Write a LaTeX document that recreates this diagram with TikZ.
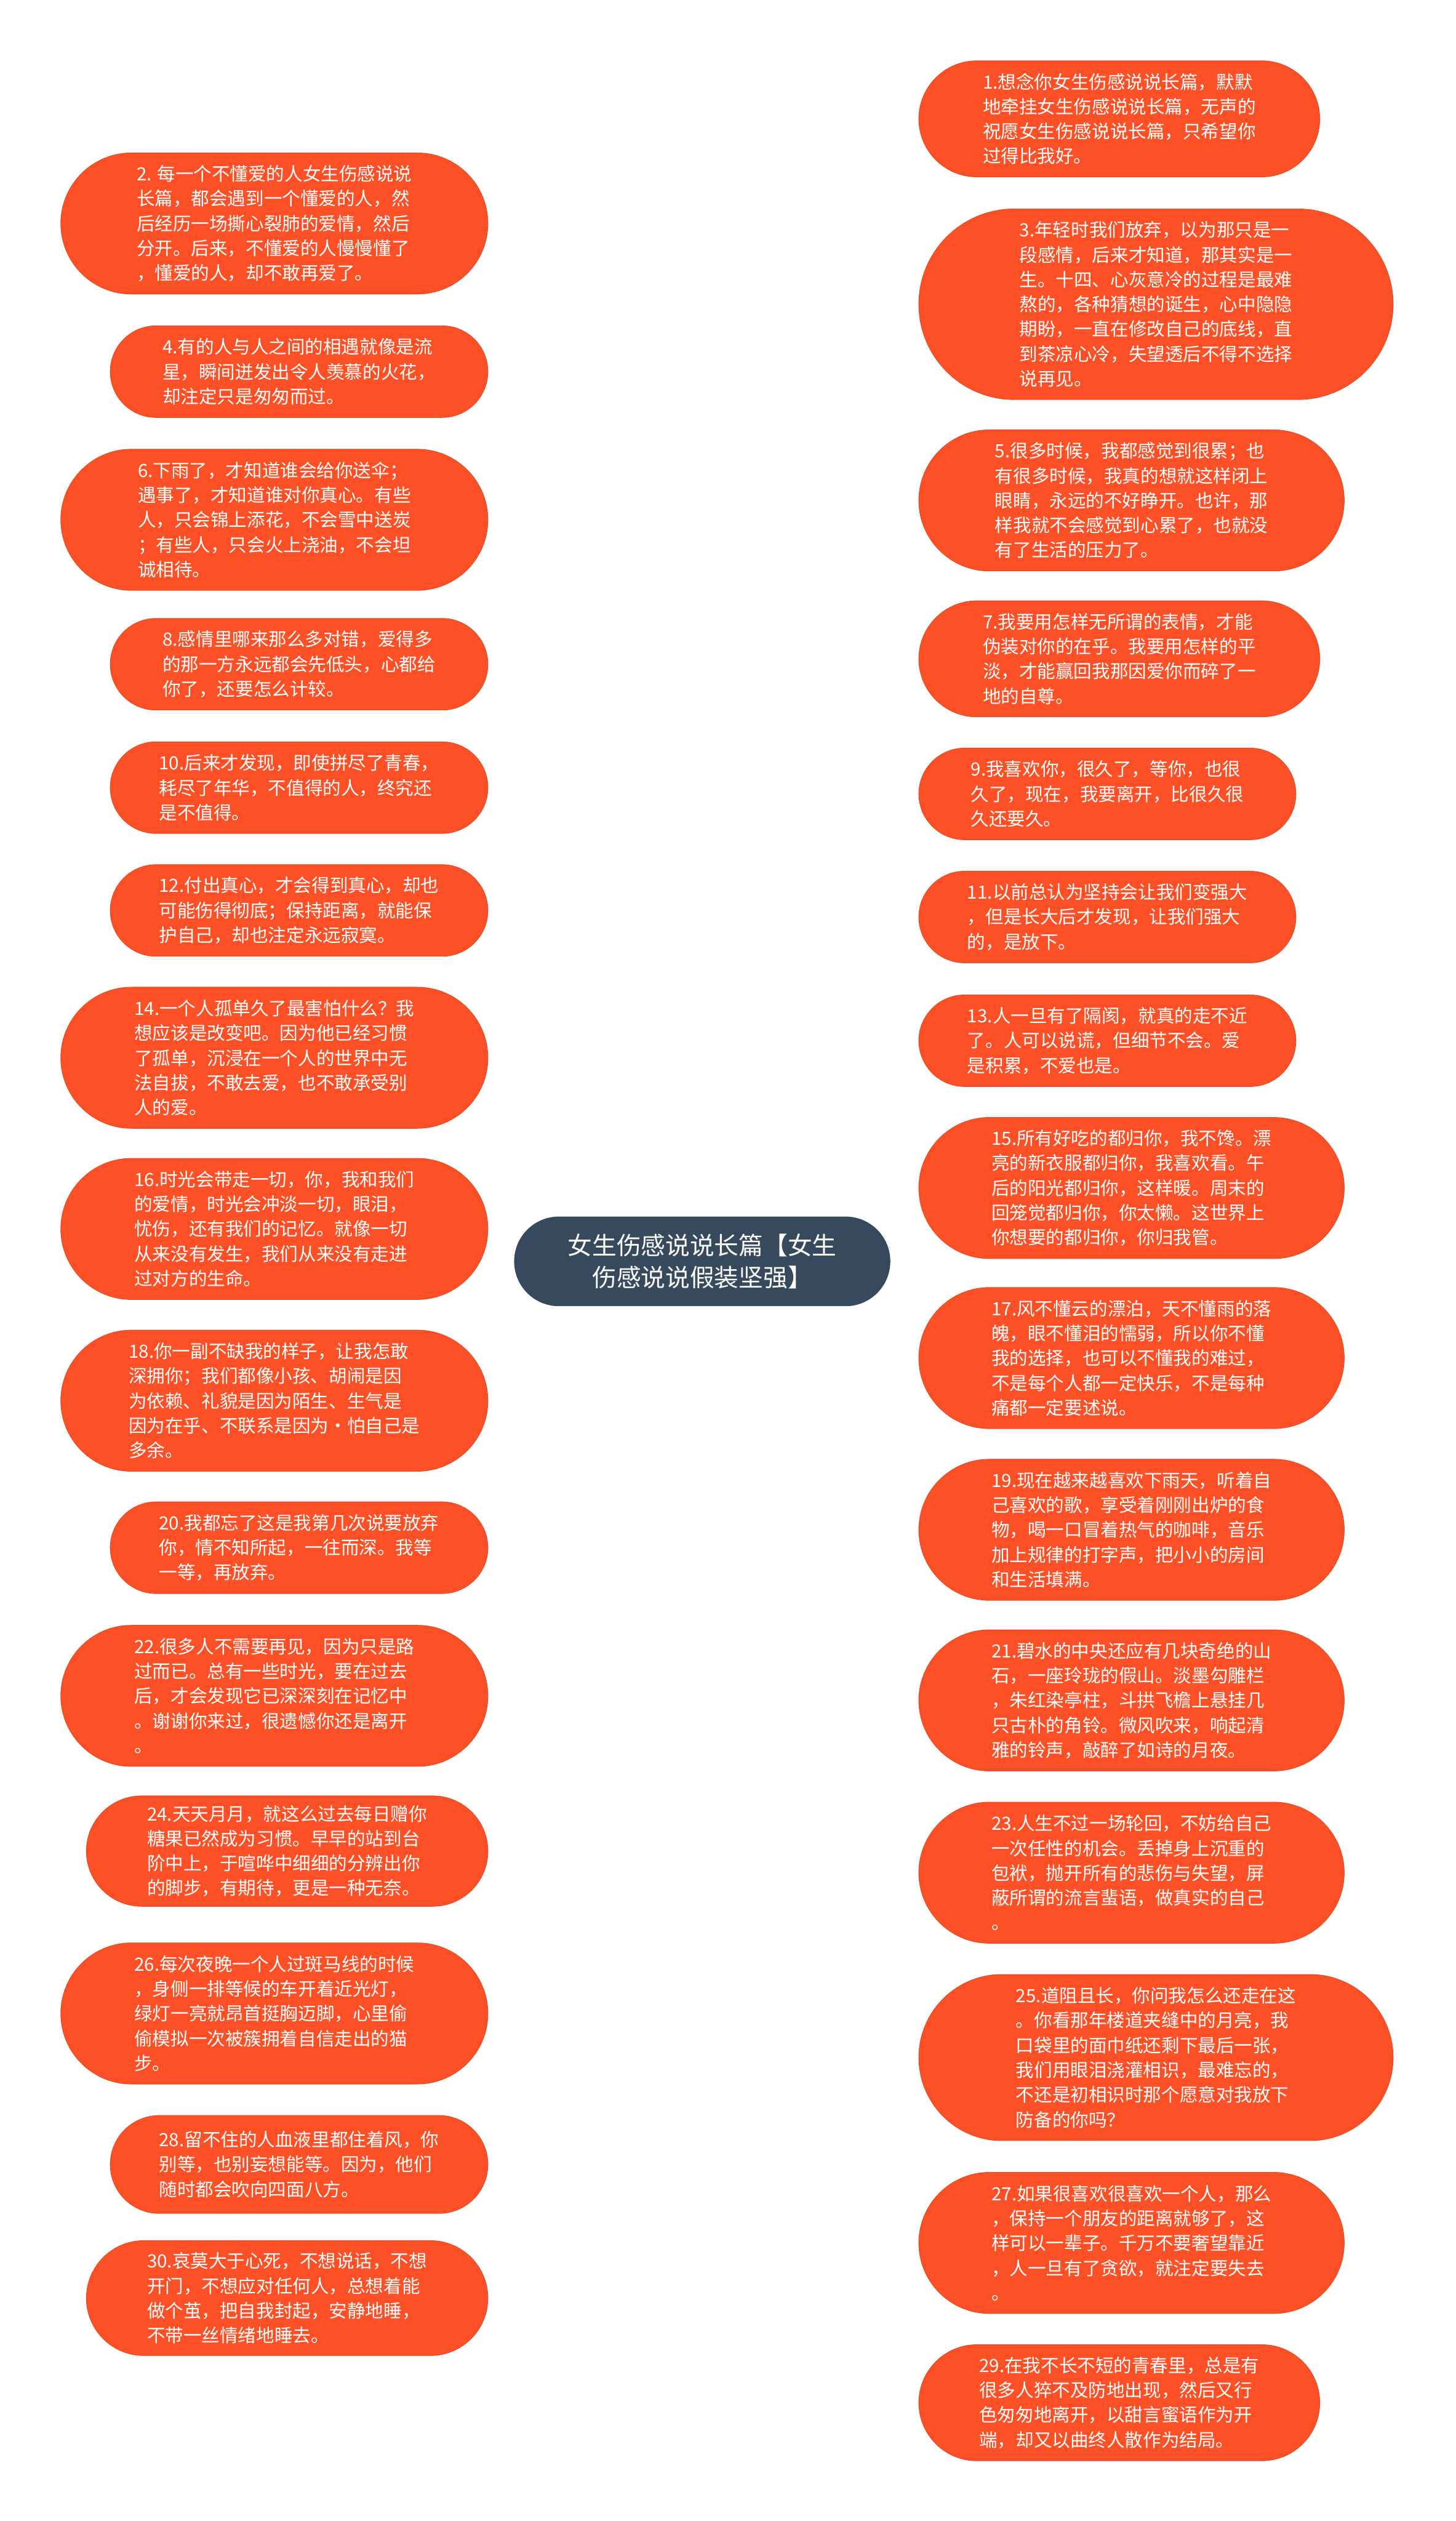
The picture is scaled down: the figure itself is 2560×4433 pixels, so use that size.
\documentclass[tikz,border=0pt]{standalone}
\usepackage{fontspec}
\setmainfont{Noto Sans CJK SC}
\usetikzlibrary{backgrounds}
\definecolor{leafc}{RGB}{253,80,38}
\definecolor{rootc}{RGB}{54,73,93}
\definecolor{linec}{RGB}{54,73,93}
\tikzset{
  leaf/.style 2 args={draw=leafc!92!black, line width=0.3pt, fill=leafc, text=white,
    align=left, inner sep=0pt, font=\fontsize{8pt}{10.9pt}\selectfont,
    minimum width=#1, minimum height=#2, rounded corners=0.5*#2},
  LW/.style={leaf={187.75pt}{#1}},
  LM/.style={leaf={166pt}{#1}},
  LN/.style={leaf={176.5pt}{#1}},
  RA/.style={leaf={176.25pt}{#1}},
  RB/.style={leaf={208.5pt}{#1}},
  RC/.style={leaf={187pt}{#1}},
  RD/.style={leaf={165.75pt}{#1}},
  rootbox/.style={fill=rootc, draw=rootc, text=white, align=center, inner sep=0pt,
    font=\fontsize{10.75pt}{14.25pt}\selectfont,
    minimum width=165pt, minimum height=39pt, rounded corners=19.5pt},
  conn/.style={draw=linec, line width=0.75pt}
}
\begin{document}
\begin{tikzpicture}[x=0.25pt,y=-0.25pt]
\useasboundingbox (0,0) rectangle (2560,4433);
\fill[white] (0,0) rectangle (2560,4433);

\node[rootbox] (c) at (1235,2218) {女生伤感说说长篇【女生\\伤感说说假装坚强】};

% left column
\node[LW={62pt}] (n2) at (482.5,393) {2. 每一个不懂爱的人女生伤感说说\\长篇，都会遇到一个懂爱的人，然\\后经历一场撕心裂肺的爱情，然后\\分开。后来，不懂爱的人慢慢懂了\\，懂爱的人，却不敢再爱了。};
\node[LM={40.25pt}] (n4) at (526,653.5) {4.有的人与人之间的相遇就像是流\\星，瞬间迸发出令人羡慕的火花，\\却注定只是匆匆而过。};
\node[LW={62pt}] (n6) at (482.5,914) {6.下雨了，才知道谁会给你送伞；\\遇事了，才知道谁对你真心。有些\\人，只会锦上添花，不会雪中送炭\\；有些人，只会火上浇油，不会坦\\诚相待。};
\node[LM={40.25pt}] (n8) at (526,1168) {8.感情里哪来那么多对错，爱得多\\的那一方永远都会先低头，心都给\\你了，还要怎么计较。};
\node[LM={40.25pt}] (n10) at (526,1385) {10.后来才发现，即使拼尽了青春，\\耗尽了年华，不值得的人，终究还\\是不值得。};
\node[LM={40.25pt}] (n12) at (526,1601) {12.付出真心，才会得到真心，却也\\可能伤得彻底；保持距离，就能保\\护自己，却也注定永远寂寞。};
\node[LW={62pt}] (n14) at (482.5,1860) {14.一个人孤单久了最害怕什么？我\\想应该是改变吧。因为他已经习惯\\了孤单，沉浸在一个人的世界中无\\法自拔，不敢去爱，也不敢承受别\\人的爱。};
\node[LW={62pt}] (n16) at (482.5,2161) {16.时光会带走一切，你，我和我们\\的爱情，时光会冲淡一切，眼泪，\\忧伤，还有我们的记忆。就像一切\\从来没有发生，我们从来没有走进\\过对方的生命。};
\node[LW={62pt}] (n18) at (482.5,2463) {18.你一副不缺我的样子，让我怎敢\\深拥你；我们都像小孩、胡闹是因\\为依赖、礼貌是因为陌生、生气是\\因为在乎、不联系是因为·怕自己是\\多余。};
\node[LM={40.25pt}] (n20) at (526,2721.5) {20.我都忘了这是我第几次说要放弃\\你，情不知所起，一往而深。我等\\一等，再放弃。};
\node[LW={62pt}] (n22) at (482.5,2982) {22.很多人不需要再见，因为只是路\\过而已。总有一些时光，要在过去\\后，才会发现它已深深刻在记忆中\\。谢谢你来过，很遗憾你还是离开\\。};
\node[LN={48.5pt}] (n24) at (505,3255) {24.天天月月，就这么过去每日赠你\\糖果已然成为习惯。早早的站到台\\阶中上，于喧哗中细细的分辨出你\\的脚步，有期待，更是一种无奈。};
\node[LW={62pt}] (n26) at (482.5,3540.5) {26.每次夜晚一个人过斑马线的时候\\，身侧一排等候的车开着近光灯，\\绿灯一亮就昂首挺胸迈脚，心里偷\\偷模拟一次被簇拥着自信走出的猫\\步。};
\node[LM={43pt}] (n28) at (526,3806) {28.留不住的人血液里都住着风，你\\别等，也别妄想能等。因为，他们\\随时都会吹向四面八方。};
\node[LN={50.5pt}] (n30) at (505,4041) {30.哀莫大于心死，不想说话，不想\\开门，不想应对任何人，总想着能\\做个茧，把自我封起，安静地睡，\\不带一丝情绪地睡去。};

% right column
\node[RA={51pt}] (n1) at (1968.5,209) {1.想念你女生伤感说说长篇，默默\\地牵挂女生伤感说说长篇，无声的\\祝愿女生伤感说说长篇，只希望你\\过得比我好。};
\node[RB={83.75pt}] (n3) at (2033,535) {3.年轻时我们放弃，以为那只是一\\段感情，后来才知道，那其实是一\\生。十四、心灰意冷的过程是最难\\熬的，各种猜想的诞生，心中隐隐\\期盼，一直在修改自己的底线，直\\到茶凉心冷，失望透后不得不选择\\说再见。};
\node[RC={62pt}] (n5) at (1990,880) {5.很多时候，我都感觉到很累；也\\有很多时候，我真的想就这样闭上\\眼睛，永远的不好睁开。也许，那\\样我就不会感觉到心累了，也就没\\有了生活的压力了。};
\node[RA={51pt}] (n7) at (1968.5,1158.5) {7.我要用怎样无所谓的表情，才能\\伪装对你的在乎。我要用怎样的平\\淡，才能赢回我那因爱你而碎了一\\地的自尊。};
\node[RD={40.25pt}] (n9) at (1947.5,1396) {9.我喜欢你，很久了，等你，也很\\久了，现在，我要离开，比很久很\\久还要久。};
\node[RD={40.25pt}] (n11) at (1947.5,1612.5) {11.以前总认为坚持会让我们变强大\\，但是长大后才发现，让我们强大\\的，是放下。};
\node[RD={40.25pt}] (n13) at (1947.5,1830) {13.人一旦有了隔阂，就真的走不近\\了。人可以说谎，但细节不会。爱\\是积累，不爱也是。};
\node[RC={62pt}] (n15) at (1990,2089) {15.所有好吃的都归你，我不馋。漂\\亮的新衣服都归你，我喜欢看。午\\后的阳光都归你，这样暖。周末的\\回笼觉都归你，你太懒。这世界上\\你想要的都归你，你归我管。};
\node[RC={62pt}] (n17) at (1990,2388) {17.风不懂云的漂泊，天不懂雨的落\\魄，眼不懂泪的懦弱，所以你不懂\\我的选择，也可以不懂我的难过，\\不是每个人都一定快乐，不是每种\\痛都一定要述说。};
\node[RC={62pt}] (n19) at (1990,2690) {19.现在越来越喜欢下雨天，听着自\\己喜欢的歌，享受着刚刚出炉的食\\物，喝一口冒着热气的咖啡，音乐\\加上规律的打字声，把小小的房间\\和生活填满。};
\node[RC={62pt}] (n21) at (1990,2990) {21.碧水的中央还应有几块奇绝的山\\石，一座玲珑的假山。淡墨勾雕栏\\，朱红染亭柱，斗拱飞檐上悬挂几\\只古朴的角铃。微风吹来，响起清\\雅的铃声，敲醉了如诗的月夜。};
\node[RC={62pt}] (n23) at (1990,3293) {23.人生不过一场轮回，不妨给自己\\一次任性的机会。丢掉身上沉重的\\包袱，抛开所有的悲伤与失望，屏\\蔽所谓的流言蜚语，做真实的自己\\。};
\node[RB={73pt}] (n25) at (2033,3618) {25.道阻且长，你问我怎么还走在这\\。你看那年楼道夹缝中的月亮，我\\口袋里的面巾纸还剩下最后一张，\\我们用眼泪浇灌相识，最难忘的，\\不还是初相识时那个愿意对我放下\\防备的你吗？};
\node[RC={62pt}] (n27) at (1990,3944) {27.如果很喜欢很喜欢一个人，那么\\，保持一个朋友的距离就够了，这\\样可以一辈子。千万不要奢望靠近\\，人一旦有了贪欲，就注定要失去\\。};
\node[RA={51pt}] (n29) at (1968.5,4225) {29.在我不长不短的青春里，总是有\\很多人猝不及防地出现，然后又行\\色匆匆地离开，以甜言蜜语作为开\\端，却又以曲终人散作为结局。};

% connectors
\begin{scope}[on background layer]
\foreach \k in {2,4,...,30}
  \draw[conn] (c.center) .. controls (c.center |- n\k.east) .. (n\k.east);
\foreach \k in {1,3,...,29}
  \draw[conn] (c.center) .. controls (c.center |- n\k.west) .. (n\k.west);
\end{scope}
\end{tikzpicture}
\end{document}
